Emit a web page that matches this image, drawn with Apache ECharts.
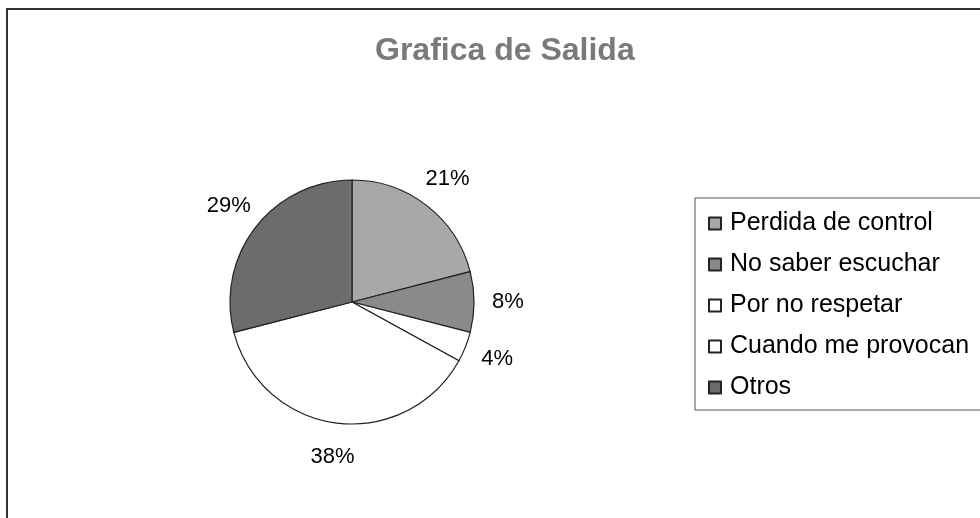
<!DOCTYPE html>
<html>
<head>
<meta charset="utf-8">
<script src="https://cdn.jsdelivr.net/npm/echarts@6/dist/echarts.min.js"></script>
<style>
  html, body { margin: 0; padding: 0; background: #fff; }
  #chart { width: 980px; height: 518px; }
</style>
</head>
<body>
<div id="chart"></div>
<script>
// datos del grafico
var categorias = ['Perdida de control', 'No saber escuchar', 'Por no respetar', 'Cuando me provocan', 'Otros'];
var valores = [21, 8, 4, 38, 29];
var colores = ['#a8a8a8', '#8a8a8a', '#ffffff', '#ffffff', '#6c6c6c'];

var fuente = '"Liberation Sans", Arial, sans-serif';
var centro = [352, 302];
var radio = 122;
var radioEtiqueta = 156;  // distancia del centro a las etiquetas

var datos = [];
for (var i = 0; i < categorias.length; i++) {
  datos.push({ name: categorias[i], value: valores[i], itemStyle: { color: colores[i] } });
}

// angulo medio de cada porcion (desde arriba, sentido horario)
var total = valores.reduce(function (a, b) { return a + b; }, 0);
var angulosMedios = [];
var acum = 0;
for (var j = 0; j < valores.length; j++) {
  angulosMedios.push((acum + valores[j] / 2) / total * Math.PI * 2);
  acum += valores[j];
}

var myChart = echarts.init(document.getElementById('chart'));

var option = {
  backgroundColor: '#fff',
  animation: false,
  title: {
    text: 'Grafica de Salida',
    left: 370,
    top: 30,
    textStyle: { color: '#7a7a7a', fontSize: 32, fontWeight: 'bold', fontFamily: fuente }
  },
  // marco exterior y caja de la leyenda
  graphic: [
    { type: 'rect', shape: { x: 7, y: 9, width: 1000, height: 600 }, style: { fill: 'none', stroke: '#333', lineWidth: 2 }, z: -1 },
    { type: 'rect', shape: { x: 695, y: 198, width: 400, height: 212 }, style: { fill: '#fff', stroke: '#555', lineWidth: 1 }, z: -1 }
  ],
  legend: {
    orient: 'vertical',
    left: 703,
    top: 206,
    icon: 'rect',
    itemWidth: 12,
    itemHeight: 12,
    itemGap: 16,
    textStyle: { color: '#000', fontSize: 25, fontFamily: fuente, padding: [0, 0, 0, 4] },
    data: categorias
  },
  series: [{
    type: 'pie',
    center: centro,
    radius: radio,
    startAngle: 90,
    clockwise: true,
    data: datos,
    itemStyle: { borderColor: '#222', borderWidth: 1.2 },
    label: {
      show: true,
      position: 'outside',
      formatter: '{d}%',
      color: '#000',
      fontSize: 22,
      fontFamily: fuente
    },
    labelLine: { show: false },
    labelLayout: function (params) {
      var a = angulosMedios[params.dataIndex];
      return {
        x: centro[0] + radioEtiqueta * Math.sin(a),
        y: centro[1] - radioEtiqueta * Math.cos(a),
        align: 'center',
        verticalAlign: 'middle'
      };
    },
    emphasis: { disabled: true }
  }]
};

myChart.setOption(option);
</script>
</body>
</html>
